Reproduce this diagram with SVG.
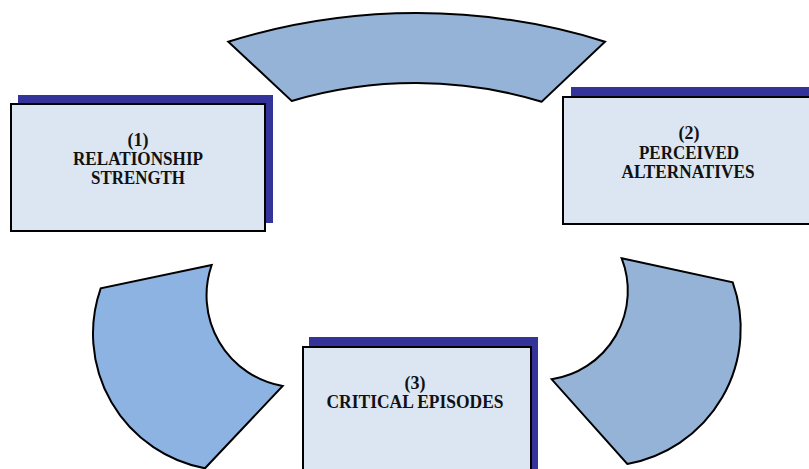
<svg xmlns="http://www.w3.org/2000/svg" width="809" height="469" viewBox="0 0 809 469">
<style>
.arc{stroke:#000;stroke-width:2;stroke-linejoin:miter}
.shadow{fill:#333399}
.box{fill:#dce6f2;stroke:#000;stroke-width:2}
.lbl{font-family:"Liberation Serif","Times New Roman",serif;font-weight:bold;font-size:18px;fill:#111;text-anchor:middle}
</style>
<rect width="809" height="469" fill="#fff"/>
<g id="connectors">
<path id="arc-top" class="arc" fill="#95b3d7" d="M228.3,41.7 A633,633 0 0 1 605,41.7 L541.7,101.7 A436,436 0 0 0 291.7,101 Z"/>
<path id="arc-right" class="arc" fill="#95b3d7" d="M621.7,258.3 L732.7,282.3 A137.6,137.6 0 0 1 627.3,464 L551.7,379.3 A89.5,89.5 0 0 0 621.7,258.3 Z"/>
<path id="arc-left" class="arc" fill="#8db3e2" d="M211.7,265 L100.7,288.3 A137,137 0 0 0 205,468.3 L282.7,386 A92,92 0 0 1 211.7,265 Z"/>
</g>
<g id="node1">
<rect class="shadow" x="18" y="95" width="255" height="128"/>
<rect class="box" x="11" y="104" width="254" height="127"/>
<text class="lbl" x="138" y="146">(1)</text>
<text class="lbl" x="138" y="165" textLength="130" lengthAdjust="spacingAndGlyphs">RELATIONSHIP</text>
<text class="lbl" x="138" y="184" textLength="94" lengthAdjust="spacingAndGlyphs">STRENGTH</text>
</g>
<g id="node2">
<rect class="shadow" x="571" y="87" width="255" height="128"/>
<rect class="box" x="563" y="97" width="254" height="127"/>
<text class="lbl" x="689" y="139">(2)</text>
<text class="lbl" x="689" y="158.5" textLength="100" lengthAdjust="spacingAndGlyphs">PERCEIVED</text>
<text class="lbl" x="688" y="178" textLength="133" lengthAdjust="spacingAndGlyphs">ALTERNATIVES</text>
</g>
<g id="node3">
<rect class="shadow" x="309" y="337" width="229" height="140"/>
<rect class="box" x="303" y="347" width="228" height="140"/>
<text class="lbl" x="415" y="389">(3)</text>
<text class="lbl" x="415" y="408" textLength="177" lengthAdjust="spacingAndGlyphs">CRITICAL EPISODES</text>
</g>
</svg>
